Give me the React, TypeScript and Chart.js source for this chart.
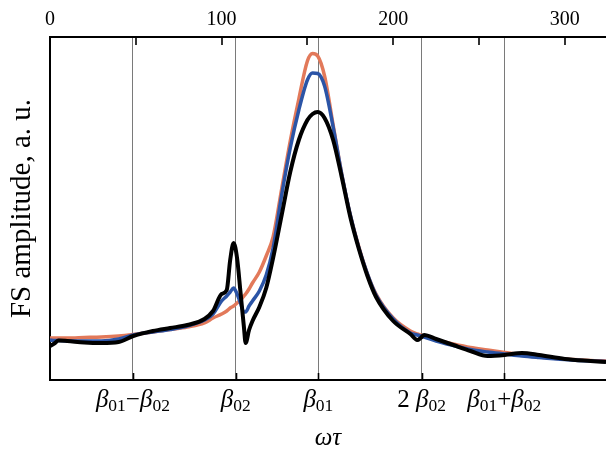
import React, { useEffect, useRef } from "react";
import { Chart, registerables } from "chart.js";

Chart.register(...registerables);

// ---- data (amplitude in arbitrary units) ----
const omega = [0, 2.5, 5, 10, 20, 30, 40, 48.5, 60, 70, 80, 90, 95, 100, 103, 105, 107, 109, 111, 113, 114, 116, 118, 122, 126, 130, 135, 140, 145, 150, 153, 156, 160, 165, 170, 175, 180, 185, 190, 200, 210, 214, 216, 218, 225, 235, 245, 255, 265, 275, 285, 300, 315, 324];

const orangeSeries = [41, 41, 41, 41, 41.5, 42, 43, 44.5, 47, 49.5, 52, 56, 61, 65, 68, 71, 73, 76, 79, 83, 85, 90, 96, 107, 123, 142, 190, 238, 280, 318, 325.5, 323, 303, 254, 205, 164, 132, 105, 85, 61, 48, 45, 44, 43, 39, 35, 31.5, 29, 26.5, 24, 22, 20, 18.5, 18];

const blueSeries = [39, 38.5, 38.5, 38, 38, 38, 40, 44, 47, 49.5, 53, 59, 65, 78, 83, 87, 91, 85, 76, 67, 67, 73, 78, 88, 104, 131, 184, 231, 269, 299, 306, 305.5, 293, 252, 205, 164, 131, 105, 84, 60, 46, 44, 43, 42, 38, 33.5, 29.5, 27, 25, 23, 21.5, 19.5, 18, 17.5];

const blackSeries = [33, 35.5, 38.5, 38, 36.5, 36, 37, 43, 48, 51, 54, 60, 68, 85, 89, 119, 136, 121, 87, 52, 36, 49, 58, 72, 91, 121, 164, 207, 239, 259, 265, 267, 261, 239, 202, 162, 130, 103, 82, 58, 45, 39, 41, 44, 40, 34, 28, 23, 24, 26, 24, 20, 18, 17];

const topLabelValues = [0, 100, 200, 300];
const topMinorValues = [50, 150, 250];
const markerValues = [48.3, 108.3, 156.4, 216.6, 264.7];
const xTitle = "ωτ";
const yTitle = "FS amplitude, a. u.";

type Seg = { t: string; k: "n" | "i" | "s" };
const markerLabels: Seg[][] = [
  [{ t: "β", k: "i" }, { t: "01", k: "s" }, { t: "−", k: "n" }, { t: "β", k: "i" }, { t: "02", k: "s" }],
  [{ t: "β", k: "i" }, { t: "02", k: "s" }],
  [{ t: "β", k: "i" }, { t: "01", k: "s" }],
  [{ t: "2 ", k: "n" }, { t: "β", k: "i" }, { t: "02", k: "s" }],
  [{ t: "β", k: "i" }, { t: "01", k: "s" }, { t: "+", k: "n" }, { t: "β", k: "i" }, { t: "02", k: "s" }],
];

const X_MIN = 0;
const X_MAX = 324;
const FAMILY = '"Liberation Serif", "DejaVu Serif", serif';

const segFont = {
  n: `25px ${FAMILY}`,
  i: `italic 25px ${FAMILY}`,
  s: `17.5px ${FAMILY}`,
};
const segDy = { n: 0, i: 0, s: 3.5 };

const overlayPlugin = {
  id: "overlay",
  afterDraw(chart: any) {
    const ctx = chart.ctx as CanvasRenderingContext2D;
    const { top, bottom, left, right } = chart.chartArea;
    const xb = chart.scales.x;
    const xt = chart.scales.xTop;
    ctx.save();
    // inward tick marks
    ctx.strokeStyle = "#000";
    ctx.lineWidth = 1.6;
    [...topLabelValues, ...topMinorValues].forEach((v) => {
      const px = Math.round(xt.getPixelForValue(v));
      ctx.beginPath();
      ctx.moveTo(px, top);
      ctx.lineTo(px, top + 8);
      ctx.stroke();
    });
    markerValues.forEach((v) => {
      const px = Math.round(xb.getPixelForValue(v)) + 0.5;
      ctx.beginPath();
      ctx.moveTo(px, bottom);
      ctx.lineTo(px, bottom - 7);
      ctx.stroke();
    });
    ctx.fillStyle = "#000";
    // top tick labels
    ctx.font = `20px ${FAMILY}`;
    ctx.textAlign = "center";
    ctx.textBaseline = "alphabetic";
    topLabelValues.forEach((v) => {
      ctx.fillText(String(v), xt.getPixelForValue(v), top - 12);
    });
    // bottom marker labels with subscripts
    ctx.textAlign = "left";
    const baseY = bottom + 27;
    markerLabels.forEach((segs, i) => {
      const px = xb.getPixelForValue(markerValues[i]);
      let w = 0;
      segs.forEach((s) => {
        ctx.font = segFont[s.k];
        w += ctx.measureText(s.t).width;
      });
      let x = px - w / 2;
      segs.forEach((s) => {
        ctx.font = segFont[s.k];
        ctx.fillText(s.t, x, baseY + segDy[s.k]);
        x += ctx.measureText(s.t).width;
      });
    });
    // axis titles
    ctx.textAlign = "center";
    ctx.textBaseline = "middle";
    ctx.font = `italic 25px ${FAMILY}`;
    ctx.fillText(xTitle, (left + right) / 2, bottom + 58);
    ctx.translate(22, (top + bottom) / 2);
    ctx.rotate(-Math.PI / 2);
    ctx.font = `29px ${FAMILY}`;
    ctx.fillText(yTitle, 0, 0);
    ctx.restore();
  },
};

export default function App() {
  const ref = useRef<HTMLCanvasElement | null>(null);
  useEffect(() => {
    if (!ref.current) return;
    const mk = (vals: number[]) => omega.map((x, i) => ({ x, y: vals[i] }));
    const chart = new Chart(ref.current, {
      type: "line",
      data: {
        datasets: [
          { label: "black", data: mk(blackSeries), borderColor: "#000000", borderWidth: 4 },
          { label: "blue", data: mk(blueSeries), borderColor: "#2b54a6", borderWidth: 3.5 },
          { label: "orange", data: mk(orangeSeries), borderColor: "#e2795a", borderWidth: 3.5 },
        ] as any,
      },
      options: {
        animation: false,
        responsive: true,
        maintainAspectRatio: false,
        elements: {
          point: { radius: 0 },
          line: { cubicInterpolationMode: "monotone" },
        },
        plugins: { legend: { display: false }, tooltip: { enabled: false } },
        scales: {
          x: {
            type: "linear",
            position: "bottom",
            min: X_MIN,
            max: X_MAX,
            afterBuildTicks: (s: any) => {
              s.ticks = markerValues.map((value) => ({ value }));
            },
            afterFit: (s: any) => {
              s.height = 73;
            },
            ticks: { display: false },
            grid: { color: "#7a7a7a", lineWidth: 1, drawTicks: false },
            border: { display: true, color: "#000", width: 2 },
          },
          xTop: {
            type: "linear",
            position: "top",
            min: X_MIN,
            max: X_MAX,
            afterBuildTicks: (s: any) => {
              s.ticks = topLabelValues.map((value) => ({ value }));
            },
            afterFit: (s: any) => {
              s.height = 37;
            },
            ticks: { display: false },
            grid: { display: false, drawTicks: false },
            border: { display: true, color: "#000", width: 2 },
          },
          y: {
            type: "linear",
            position: "left",
            min: -1,
            max: 342,
            afterFit: (s: any) => {
              s.width = 50;
            },
            ticks: { display: false },
            grid: { display: false, drawTicks: false },
            border: { display: true, color: "#000", width: 2 },
          },
        },
      },
      plugins: [overlayPlugin],
    });
    return () => chart.destroy();
  }, []);
  return (
    <div style={{ position: "fixed", left: 0, top: 0, width: 606, height: 453, background: "#fff" }}>
      <canvas ref={ref} />
    </div>
  );
}
